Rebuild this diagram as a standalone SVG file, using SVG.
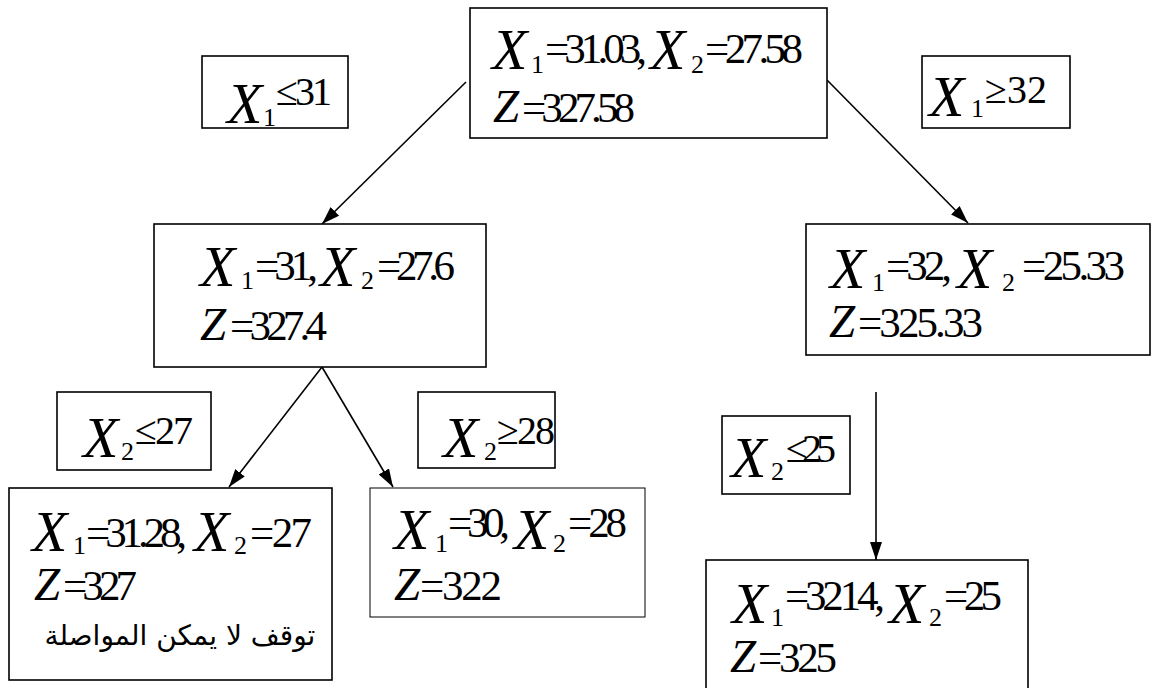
<svg xmlns="http://www.w3.org/2000/svg" width="1152" height="688" viewBox="0 0 1152 688">
<style>
rect.b{fill:#fff;stroke:#000;stroke-width:1.6}
rect.t{fill:#fff;stroke:#000;stroke-width:1}
text{font-family:'Liberation Serif',serif;fill:#000}
.xi{font-style:italic;font-size:58px}
.zi{font-style:italic;font-size:47px}
.sub{font-size:26px}
.num{font-size:43px}
.rel{font-size:40px}
text.ar{font-family:'DejaVu Sans',sans-serif;font-size:28px}
.c{stroke:#000;stroke-width:1.6;fill:none;marker-end:url(#ah)}
</style>
<defs>
<marker id="ah" markerUnits="userSpaceOnUse" markerWidth="18" markerHeight="12" refX="18" refY="6" orient="auto">
<path d="M0,0 L18,6 L0,12 z" fill="#000"/>
</marker>
</defs>
<rect width="1152" height="688" fill="#fff"/>
<g id="connectors">
<line class="c" x1="466" y1="82" x2="322" y2="224"/>
<line class="c" x1="827" y1="80" x2="968" y2="223"/>
<line class="c" x1="322" y1="367" x2="229" y2="487"/>
<line class="c" x1="322" y1="367" x2="393" y2="487"/>
<line class="c" x1="876" y1="392" x2="876" y2="560"/>
</g>
<g id="n1">
<rect class="b" x="470" y="8" width="357" height="130"/>
<text class="xi" x="492" y="69">X</text>
<text class="sub" x="531" y="73">1</text>
<text class="num" x="545" y="63" textLength="102" lengthAdjust="spacing">=31.03,</text>
<text class="xi" x="650" y="69">X</text>
<text class="sub" x="691" y="73">2</text>
<text class="num" x="705" y="63" textLength="98" lengthAdjust="spacing">=27.58</text>
<text class="zi" x="493" y="122">Z</text>
<text class="num" x="522" y="122" textLength="113" lengthAdjust="spacing">=327.58</text>
</g>
<g id="n2">
<rect class="b" x="154" y="224" width="332" height="143"/>
<text class="xi" x="200" y="286">X</text>
<text class="sub" x="241" y="289">1</text>
<text class="num" x="255" y="280" textLength="63" lengthAdjust="spacing">=31,</text>
<text class="xi" x="320" y="286">X</text>
<text class="sub" x="361" y="289">2</text>
<text class="num" x="377" y="280" textLength="78" lengthAdjust="spacing">=27.6</text>
<text class="zi" x="200" y="340">Z</text>
<text class="num" x="230" y="340" textLength="97" lengthAdjust="spacing">=327.4</text>
</g>
<g id="n3">
<rect class="b" x="806" y="224" width="344" height="131"/>
<text class="xi" x="830" y="288">X</text>
<text class="sub" x="872" y="291">1</text>
<text class="num" x="886" y="280" textLength="66" lengthAdjust="spacing">=32,</text>
<text class="xi" x="957" y="288">X</text>
<text class="sub" x="1002" y="291">2</text>
<text class="num" x="1022" y="280" textLength="103" lengthAdjust="spacing">=25.33</text>
<text class="zi" x="829" y="337">Z</text>
<text class="num" x="858" y="337" textLength="125" lengthAdjust="spacing">=325.33</text>
</g>
<g id="n4">
<rect class="b" x="9" y="488" width="323" height="192"/>
<text class="xi" x="32" y="551">X</text>
<text class="sub" x="73" y="554">1</text>
<text class="num" x="86" y="547" textLength="101" lengthAdjust="spacing">=31.28,</text>
<text class="xi" x="194" y="551">X</text>
<text class="sub" x="234" y="554">2</text>
<text class="num" x="250" y="547" textLength="62" lengthAdjust="spacing">=27</text>
<text class="zi" x="34" y="600">Z</text>
<text class="num" x="63" y="600" textLength="74" lengthAdjust="spacing">=327</text>
<text class="ar" x="180" y="645" text-anchor="middle" direction="rtl">توقف لا يمكن المواصلة</text>
</g>
<g id="n5">
<rect class="t" x="370" y="488" width="275" height="129"/>
<text class="xi" x="394" y="549">X</text>
<text class="sub" x="435" y="552">1</text>
<text class="num" x="448" y="537" textLength="62" lengthAdjust="spacing">=30,</text>
<text class="xi" x="514" y="549">X</text>
<text class="sub" x="553" y="552">2</text>
<text class="num" x="568" y="537" textLength="59" lengthAdjust="spacing">=28</text>
<text class="zi" x="394" y="600">Z</text>
<text class="num" x="420" y="600" textLength="82" lengthAdjust="spacing">=322</text>
</g>
<g id="n6">
<rect class="b" x="706" y="560" width="322" height="140"/>
<text class="xi" x="732" y="623">X</text>
<text class="sub" x="771" y="626">1</text>
<text class="num" x="785" y="610" textLength="100" lengthAdjust="spacing">=3214,</text>
<text class="xi" x="889" y="623">X</text>
<text class="sub" x="929" y="626">2</text>
<text class="num" x="944" y="610" textLength="58" lengthAdjust="spacing">=25</text>
<text class="zi" x="730" y="672">Z</text>
<text class="num" x="758" y="672" textLength="79" lengthAdjust="spacing">=325</text>
</g>
<g id="l1">
<rect class="b" x="202" y="56" width="146" height="72"/>
<text class="xi" x="227" y="123">X</text>
<text class="sub" x="263" y="126">1</text>
<text class="rel" x="276" y="105" textLength="56" lengthAdjust="spacing">≤31</text>
</g>
<g id="l2">
<rect class="b" x="922" y="56" width="148" height="72"/>
<text class="xi" x="929" y="116">X</text>
<text class="sub" x="971" y="117">1</text>
<text class="rel" x="985" y="103" textLength="62" lengthAdjust="spacing">≥32</text>
</g>
<g id="l3">
<rect class="b" x="57" y="392" width="154" height="78"/>
<text class="xi" x="83" y="457">X</text>
<text class="sub" x="121" y="460">2</text>
<text class="rel" x="135" y="444" textLength="58" lengthAdjust="spacing">≤27</text>
</g>
<g id="l4">
<rect class="b" x="418" y="392" width="137" height="76"/>
<text class="xi" x="443" y="457">X</text>
<text class="sub" x="484" y="460">2</text>
<text class="rel" x="497" y="444" textLength="58" lengthAdjust="spacing">≥28</text>
</g>
<g id="l5">
<rect class="b" x="722" y="416" width="128" height="78"/>
<text class="xi" x="731" y="477">X</text>
<text class="sub" x="771" y="480">2</text>
<text class="rel" x="786" y="462" textLength="50" lengthAdjust="spacing">≤25</text>
</g>
</svg>
